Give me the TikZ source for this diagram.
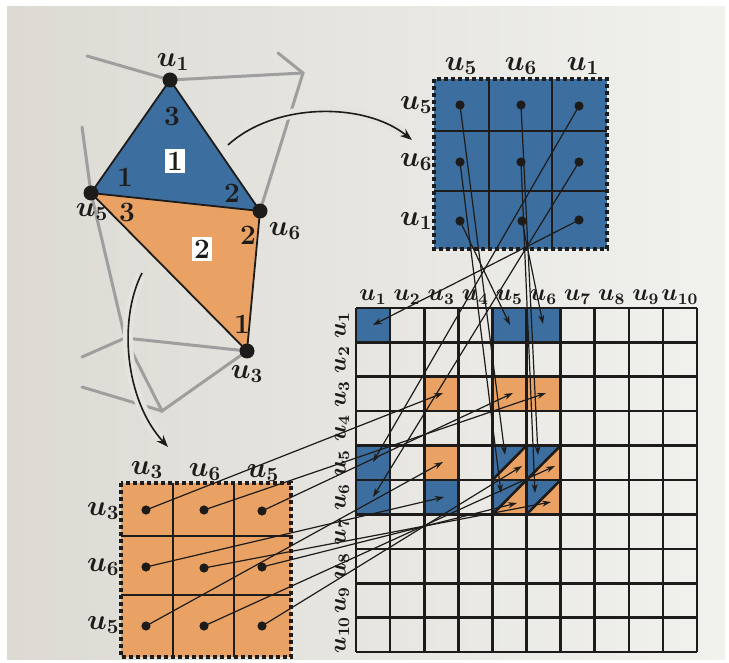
\RequirePackage{fix-cm}
\documentclass[tikz,border=0pt]{standalone}
\usetikzlibrary{arrows.meta}
\definecolor{paper}{HTML}{E4E3DE}
\definecolor{paperL}{HTML}{DCDAD3}
\definecolor{paperR}{HTML}{F1F1EE}
\definecolor{cblue}{HTML}{3C6E9F}
\definecolor{corange}{HTML}{E9A263}
\definecolor{meshgray}{HTML}{9E9E9E}
\definecolor{ink}{HTML}{1E1C1A}
\tikzset{
  vdot/.style={circle,fill=ink,inner sep=0pt,minimum size=7.5pt},
  mdot/.style={circle,fill=ink,inner sep=0pt,minimum size=4.6pt},
  lab/.style={font=\fontsize{14.5}{17}\selectfont\boldmath,inner sep=0pt,text=ink},
  glab/.style={font=\fontsize{12}{14}\selectfont\boldmath,inner sep=0pt,text=ink},
  num/.style={font=\fontsize{14}{16}\selectfont\bfseries,inner sep=0pt,text=ink},
  boxnum/.style={num,fill=white,inner sep=1.2pt},
  mesh/.style={draw=meshgray,line width=1.5pt,line cap=round},
  tedge/.style={draw=ink,line width=0.9pt,line join=round},
  mframe/.style={draw=ink,line width=1.6pt,dash pattern=on 2.2pt off 1.3pt},
  minner/.style={draw=ink,line width=0.75pt},
  gline/.style={draw=ink,line width=1.3pt},
  arr/.style={draw=ink,line width=0.6pt,-{Stealth[length=4.5pt,width=3pt]}},
  bendarr/.style={draw=ink,line width=0.8pt,-{Stealth[length=6pt,width=4.5pt]}},
  halo/.style={draw=paper,line width=5pt}
}
\begin{document}
\begin{tikzpicture}[x=0.5pt,y=-0.5pt]
\useasboundingbox (0,0) rectangle (729,663);
\fill[white] (0,0) rectangle (729,663);
\shade[left color=paperL,right color=paperR] (7,7) rectangle (725,659);

% ---------- mesh vertices ----------
\coordinate (m1) at (87,56);
\coordinate (m2) at (278,53);
\coordinate (m3) at (303,73);
\coordinate (m4) at (82,127);
\coordinate (P) at (125,338);
\coordinate (Q) at (162,411);
\coordinate (m5) at (82,357);
\coordinate (m6) at (82,387);
\coordinate (U1) at (170,80);
\coordinate (U5) at (91,193);
\coordinate (U6) at (260,211);
\coordinate (U3) at (247,351);

% gray neighbouring mesh
\draw[mesh] (m1) -- (U1) -- (m3);
\draw[mesh] (m2) -- (m3) -- (U6);
\draw[mesh] (m4) -- (U5) -- (P) -- (U3);
\draw[mesh] (m5) -- (P) -- (Q) -- (U3);
\draw[mesh] (m6) -- (Q);

% halos of the bent arrows
\draw[halo] (232,141) .. controls (275,102) and (365,102) .. (405,134);
\draw[halo] (141,276) .. controls (118,320) and (125,400) .. (165,444);

% triangles
\fill[cblue] (U1) -- (U5) -- (U6) -- cycle;
\fill[corange] (U5) -- (U6) -- (U3) -- cycle;
\draw[tedge] (U1) -- (U5) -- (U6) -- cycle;
\draw[tedge] (U5) -- (U3) -- (U6);

% bent arrows
\draw[bendarr] (228,145) .. controls (275,102) and (365,102) .. (412,140);
\draw[bendarr] (142,273) .. controls (118,320) and (125,400) .. (168,447);

\node[vdot] (v1) at (U1) {};
\node[vdot] (v5) at (U5) {};
\node[vdot] (v6) at (U6) {};
\node[vdot] (v3) at (U3) {};
\node[lab] (lv1) at (173,62) {$u_1$};
\node[lab] (lv5) at (92,212) {$u_5$};
\node[lab] (lv6) at (285,231) {$u_6$};
\node[lab] (lv3) at (247,374) {$u_3$};

\node[num] (a3) at (172,116) {3};
\node[num] (a1) at (125,177) {1};
\node[num] (a2) at (232,193) {2};
\node[boxnum] (e1) at (175,161) {1};
\node[num] (b3) at (127,212) {3};
\node[num] (b2) at (248,235) {2};
\node[num] (b1) at (242,324) {1};
\node[boxnum] (e2) at (202,249) {2};

% ---------- blue element matrix ----------
\fill[cblue] (434,79) rectangle (607,249);
\draw[minner] (489,79) -- (489,249) (552,79) -- (552,249)
              (434,131) -- (607,131) (434,191) -- (607,191);
\draw[mframe] (434,79) rectangle (607,249);
\node[lab] (bc1) at (461,66) {$u_5$};
\node[lab] (bc2) at (521,66) {$u_6$};
\node[lab] (bc3) at (583,66) {$u_1$};
\node[lab,anchor=east] (br1) at (433,105) {$u_5$};
\node[lab,anchor=east] (br2) at (433,162) {$u_6$};
\node[lab,anchor=east] (br3) at (433,221) {$u_1$};
\node[mdot] (b55) at (460,105) {};
\node[mdot] (b56) at (521,105) {};
\node[mdot] (b51) at (579,106) {};
\node[mdot] (b65) at (460,162) {};
\node[mdot] (b66) at (521,162) {};
\node[mdot] (b61) at (579,162) {};
\node[mdot] (b15) at (460,221) {};
\node[mdot] (b16) at (522,221) {};
\node[mdot] (b11) at (579,220) {};

% ---------- orange element matrix ----------
\fill[corange] (121,483) rectangle (291,657);
\draw[minner] (173,483) -- (173,657) (234,483) -- (234,657)
              (121,536) -- (291,536) (121,595) -- (291,595);
\draw[mframe] (121,483) rectangle (291,657);
\node[lab] (oc1) at (147,470) {$u_3$};
\node[lab] (oc2) at (205,472) {$u_6$};
\node[lab] (oc3) at (263,473) {$u_5$};
\node[lab,anchor=east] (or1) at (120,511) {$u_3$};
\node[lab,anchor=east] (or2) at (120,567) {$u_6$};
\node[lab,anchor=east] (or3) at (120,625) {$u_5$};
\node[mdot] (o33) at (146,510) {};
\node[mdot] (o36) at (204,510) {};
\node[mdot] (o35) at (262,511) {};
\node[mdot] (o63) at (146,567) {};
\node[mdot] (o66) at (204,568) {};
\node[mdot] (o65) at (262,567) {};
\node[mdot] (o53) at (146,626) {};
\node[mdot] (o56) at (204,626) {};
\node[mdot] (o55) at (262,626) {};

% ---------- global matrix ----------
\foreach \r/\c in {1/1,1/5,1/6,5/1,6/1,6/3}
  \fill[cblue] ({356+34.1*(\c-1)},{308+34.4*(\r-1)}) rectangle ++(34.1,34.4);
\foreach \r/\c in {3/3,3/5,3/6,5/3}
  \fill[corange] ({356+34.1*(\c-1)},{308+34.4*(\r-1)}) rectangle ++(34.1,34.4);
\foreach \r/\c in {5/5,5/6,6/5,6/6}{
  \fill[cblue] ({356+34.1*(\c-1)},{308+34.4*(\r-1)}) -- ++(34.1,0) -- ++(-34.1,34.4) -- cycle;
  \fill[corange] ({356+34.1*\c},{308+34.4*(\r-1)}) -- ++(0,34.4) -- ++(-34.1,0) -- cycle;
  \draw[gline] ({356+34.1*(\c-1)},{308+34.4*\r}) -- ++(34.1,-34.4);
}
\foreach \i in {0,...,10}{
  \draw[gline] ({356+34.1*\i},308) -- ({356+34.1*\i},652);
  \draw[gline] (356,{308+34.4*\i}) -- (697,{308+34.4*\i});
}
\foreach \i in {1,...,10}{
  \node[glab] (gc\i) at ({373.05+34.1*(\i-1)},297) {$u_{\i}$};
  \node[glab,rotate=90] (gr\i) at (342,{325.2+34.4*(\i-1)}) {$u_{\i}$};
}

% arrow targets
\coordinate (t11) at (373,325);
\coordinate (t15) at (510,325);
\coordinate (t16) at (543,324);
\coordinate (t51) at (373,462);
\coordinate (t61) at (373,497);
\coordinate (tb55) at (505,455);
\coordinate (tb56) at (538,455);
\coordinate (tb65) at (501,493);
\coordinate (tb66) at (535,493);
\coordinate (t33) at (443,393);
\coordinate (t35) at (513,393);
\coordinate (t36) at (546,393);
\coordinate (t53) at (443,462);
\coordinate (t63) at (444,497);
\coordinate (to55) at (522,466);
\coordinate (to56) at (555,466);
\coordinate (to65) at (517,503);
\coordinate (to66) at (551,502);

% arrows from blue matrix
\draw[arr] (b55.center) -- (tb55);
\draw[arr] (b56.center) -- (tb56);
\draw[arr] (b51.center) -- (t51);
\draw[arr] (b65.center) -- (tb65);
\draw[arr] (b66.center) -- (tb66);
\draw[arr] (b61.center) -- (t61);
\draw[arr] (b15.center) -- (t15);
\draw[arr] (b16.center) -- (t16);
\draw[arr] (b11.center) -- (t11);

% arrows from orange matrix
\draw[arr] (o33.center) -- (t33);
\draw[arr] (o36.center) -- (t36);
\draw[arr] (o35.center) -- (t35);
\draw[arr] (o63.center) -- (t63);
\draw[arr] (o66.center) -- (to66);
\draw[arr] (o65.center) -- (to65);
\draw[arr] (o53.center) -- (t53);
\draw[arr] (o56.center) -- (to56);
\draw[arr] (o55.center) -- (to55);
\end{tikzpicture}
\end{document}
